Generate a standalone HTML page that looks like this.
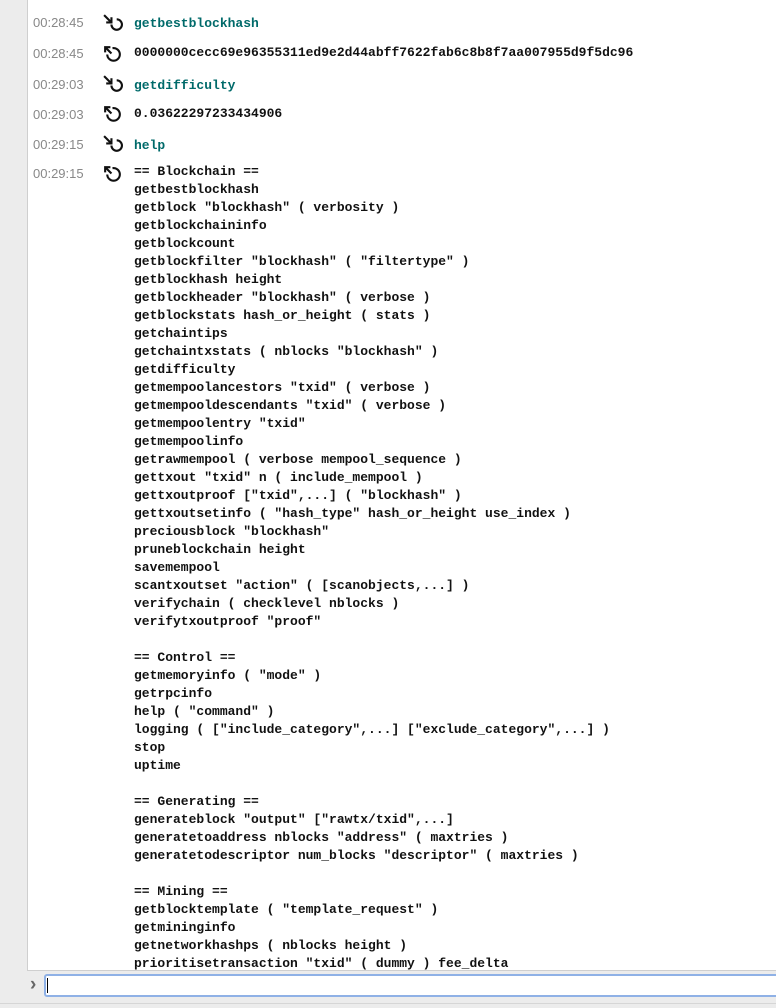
<!DOCTYPE html>
<html><head><meta charset="utf-8"><style>
html,body{margin:0;padding:0;width:776px;height:1008px;overflow:hidden;background:#ececec;}
.panel{position:absolute;left:27px;top:-2px;width:760px;height:973px;background:#fff;border:1px solid #cfcfcf;box-sizing:border-box;}
.ts{position:absolute;left:33px;font:13px "Liberation Sans",sans-serif;color:#888;}
.cmd{position:absolute;left:134px;font:bold 13px "Liberation Mono",monospace;color:#006a6a;}
.out{position:absolute;left:134px;font:bold 13px "Liberation Mono",monospace;color:#111;white-space:pre;line-height:18px;}
.ic{position:absolute;left:102px;width:21px;height:21px;}
.inp{position:absolute;left:44px;top:974px;width:740px;height:23px;border:2px solid #8fb1e6;border-radius:3px;background:#fff;box-sizing:border-box;}
.caret{position:absolute;left:47px;top:978px;width:1px;height:15px;background:#000;}
.chev{position:absolute;left:30px;top:974px;font:bold 19px "Liberation Sans",sans-serif;color:#666;}
</style></head><body>
<div class="panel"></div>
<div class="ts" style="top:15px">00:28:45</div>
<div class="ts" style="top:46px">00:28:45</div>
<div class="ts" style="top:77px">00:29:03</div>
<div class="ts" style="top:107px">00:29:03</div>
<div class="ts" style="top:137px">00:29:15</div>
<div class="ts" style="top:166px">00:29:15</div>

<svg class="ic" style="top:13px" viewBox="0 0 20 20"><path d="M2 2 L9 9 M9 4 V9 H4" stroke="#111" stroke-width="2" fill="none"/><path d="M9 11 A5 5 0 1 0 14 6" stroke="#111" stroke-width="2" fill="none"/></svg>
<svg class="ic" style="top:44px" viewBox="0 0 20 20"><path d="M3 3 L9 9 M3 8 V3 H8" stroke="#111" stroke-width="2" fill="none"/><path d="M5 10 A6 6 0 1 0 10 4" stroke="#111" stroke-width="2" fill="none"/></svg>
<svg class="ic" style="top:74px" viewBox="0 0 20 20"><path d="M2 2 L9 9 M9 4 V9 H4" stroke="#111" stroke-width="2" fill="none"/><path d="M9 11 A5 5 0 1 0 14 6" stroke="#111" stroke-width="2" fill="none"/></svg>
<svg class="ic" style="top:104px" viewBox="0 0 20 20"><path d="M3 3 L9 9 M3 8 V3 H8" stroke="#111" stroke-width="2" fill="none"/><path d="M5 10 A6 6 0 1 0 10 4" stroke="#111" stroke-width="2" fill="none"/></svg>
<svg class="ic" style="top:134px" viewBox="0 0 20 20"><path d="M2 2 L9 9 M9 4 V9 H4" stroke="#111" stroke-width="2" fill="none"/><path d="M9 11 A5 5 0 1 0 14 6" stroke="#111" stroke-width="2" fill="none"/></svg>
<svg class="ic" style="top:164px" viewBox="0 0 20 20"><path d="M3 3 L9 9 M3 8 V3 H8" stroke="#111" stroke-width="2" fill="none"/><path d="M5 10 A6 6 0 1 0 10 4" stroke="#111" stroke-width="2" fill="none"/></svg>

<div class="cmd" style="top:16px">getbestblockhash</div>
<div class="out" style="top:44px">0000000cecc69e96355311ed9e2d44abff7622fab6c8b8f7aa007955d9f5dc96</div>
<div class="cmd" style="top:78px">getdifficulty</div>
<div class="out" style="top:105px">0.03622297233434906</div>
<div class="cmd" style="top:138px">help</div>
<div class="out" style="top:163px">== Blockchain ==
getbestblockhash
getblock "blockhash" ( verbosity )
getblockchaininfo
getblockcount
getblockfilter "blockhash" ( "filtertype" )
getblockhash height
getblockheader "blockhash" ( verbose )
getblockstats hash_or_height ( stats )
getchaintips
getchaintxstats ( nblocks "blockhash" )
getdifficulty
getmempoolancestors "txid" ( verbose )
getmempooldescendants "txid" ( verbose )
getmempoolentry "txid"
getmempoolinfo
getrawmempool ( verbose mempool_sequence )
gettxout "txid" n ( include_mempool )
gettxoutproof ["txid",...] ( "blockhash" )
gettxoutsetinfo ( "hash_type" hash_or_height use_index )
preciousblock "blockhash"
pruneblockchain height
savemempool
scantxoutset "action" ( [scanobjects,...] )
verifychain ( checklevel nblocks )
verifytxoutproof "proof"

== Control ==
getmemoryinfo ( "mode" )
getrpcinfo
help ( "command" )
logging ( ["include_category",...] ["exclude_category",...] )
stop
uptime

== Generating ==
generateblock "output" ["rawtx/txid",...]
generatetoaddress nblocks "address" ( maxtries )
generatetodescriptor num_blocks "descriptor" ( maxtries )

== Mining ==
getblocktemplate ( "template_request" )
getmininginfo
getnetworkhashps ( nblocks height )
prioritisetransaction "txid" ( dummy ) fee_delta</div>
<div style="position:absolute;left:27px;top:971px;width:749px;height:37px;background:#ececec;"></div>
<div style="position:absolute;left:27px;top:970px;width:749px;height:1px;background:#cfcfcf;"></div>
<div class="chev">›</div>
<div class="inp"></div>
<div class="caret"></div>
<div style="position:absolute;left:0;top:1003px;width:776px;height:1px;background:#d6d6d6;"></div>
</body></html>
